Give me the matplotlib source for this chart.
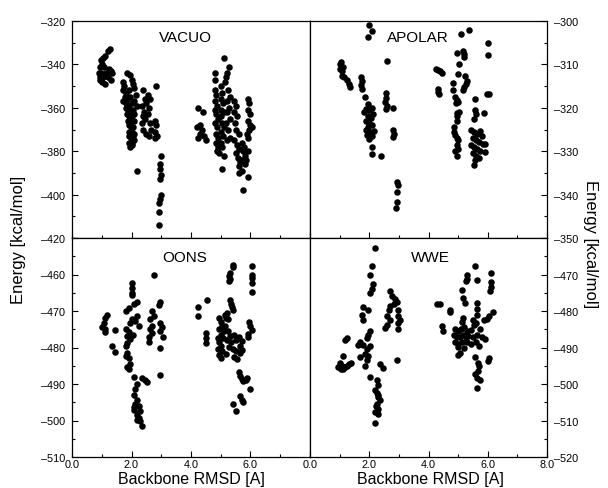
import numpy as np
import matplotlib.pyplot as plt
from matplotlib.ticker import MultipleLocator

plt.rcParams['font.family'] = ['Liberation Sans', 'DejaVu Sans']

# (rmsd, energy) pairs
vacuo_pts = [
    (1.28,-333),(1.2,-334),(1.12,-336),(1.05,-337),(0.98,-338),(1.0,-340),(0.95,-341),(1.08,-341),
    (1.25,-342),(1.3,-343),(0.9,-344),(0.98,-344),(1.15,-344),(1.35,-344),(0.95,-346),(1.05,-346),
    (1.2,-346),(1.3,-347),(1.0,-348),(1.1,-349),(0.93,-347),
    (1.85,-344),(1.95,-345),(2.0,-347),(1.7,-348),(1.75,-350),(2.05,-349),(1.72,-352),(1.8,-353),
    (1.9,-352),(2.1,-351),(1.78,-355),(1.85,-356),(1.95,-355),(2.15,-354),(1.72,-357),(1.82,-358),
    (1.9,-359),(2.0,-358),(2.1,-357),(1.8,-360),(1.88,-361),(1.95,-362),(2.05,-361),(2.2,-359),
    (1.85,-363),(1.92,-364),(2.0,-364),(2.1,-363),(1.88,-366),(1.95,-367),(2.02,-366),(2.1,-366),
    (1.9,-368),(1.98,-369),(2.05,-369),(1.92,-371),(2.0,-371),(2.08,-372),(1.9,-373),(1.97,-374),
    (2.04,-374),(1.92,-376),(2.0,-376),(2.08,-375),(1.95,-378),(2.02,-377),(2.18,-389),
    (2.4,-352),(2.55,-354),(2.62,-356),(2.45,-356),(2.5,-358),(2.35,-359),(2.6,-360),(2.42,-362),
    (2.55,-363),(2.45,-365),(2.35,-367),(2.62,-367),(2.4,-370),(2.65,-370),(2.48,-372),(2.6,-373),
    (2.38,-364),
    (2.82,-350),(2.78,-366),(2.82,-368),(2.8,-371),(2.85,-373),(2.8,-374),(2.98,-382),(2.97,-386),
    (2.95,-388),(2.98,-391),(2.95,-393),(2.99,-400),(2.96,-402),(2.93,-404),(2.92,-408),(2.94,-414),
    (4.25,-360),(4.42,-362),(4.3,-368),(4.2,-369),(4.38,-370),(4.3,-372),(4.45,-373),(4.22,-374),
    (4.5,-375),
    (4.8,-344),(4.82,-347),(4.8,-352),(4.85,-354),(4.82,-357),(4.88,-359),(4.8,-361),(4.85,-363),
    (4.9,-365),(4.82,-367),(4.88,-369),(4.85,-372),(4.9,-374),(4.83,-376),(4.92,-378),(4.88,-380),
    (4.95,-381),
    (5.0,-350),(5.05,-353),(5.0,-356),(5.08,-358),(5.02,-361),(5.1,-362),(5.0,-364),(5.05,-367),
    (5.1,-369),(5.02,-371),(5.08,-373),(5.0,-376),(5.05,-378),(5.1,-382),(5.05,-388),
    (5.12,-337),(5.28,-341),(5.22,-344),(5.18,-346),(5.15,-348),(5.25,-352),(5.3,-355),(5.2,-357),
    (5.28,-360),(5.22,-362),(5.3,-365),(5.18,-367),(5.25,-370),(5.32,-374),(5.2,-375),
    (5.45,-357),(5.5,-359),(5.45,-362),(5.55,-364),(5.48,-367),(5.52,-370),(5.6,-372),(5.45,-375),
    (5.55,-377),(5.62,-379),(5.5,-381),(5.58,-383),(5.65,-385),(5.6,-387),(5.7,-389),(5.62,-390),
    (5.74,-398),(5.72,-376),(5.78,-378),(5.75,-380),(5.8,-382),(5.72,-384),(5.82,-386),
    (5.9,-356),(5.95,-358),(5.92,-361),(5.98,-363),(5.9,-366),(6.0,-368),(5.95,-370),(5.88,-372),
    (5.92,-374),(5.9,-380),(5.85,-384),(5.92,-392),(6.05,-369),
]

apolar_pts = [
    (2.0,-301),(2.08,-302.3),(1.97,-303.8),(2.59,-309.2),
    (1.01,-310),(1.05,-309.5),(1.1,-310.5),(1.08,-311.5),(1.02,-311),(1.07,-312.6),(1.15,-313),
    (1.24,-313.7),(1.3,-314.5),(1.35,-315.3),
    (1.73,-312.8),(1.75,-313.8),(1.72,-314.8),(1.76,-315.6),
    (1.85,-317.5),(1.95,-319.2),(1.9,-320.2),(2.0,-320.5),(2.08,-320),(1.82,-321),(1.95,-321.8),
    (2.05,-322.3),(2.12,-321.5),(1.9,-323),(2.0,-323.5),(2.1,-324),(1.95,-324.5),(1.88,-325.2),
    (2.02,-325.5),(2.15,-325.3),(1.92,-326.3),(2.08,-326.5),(2.0,-327.2),(2.08,-329),(2.08,-330.6),
    (2.39,-331),
    (2.55,-316.5),(2.57,-317.7),(2.53,-318.6),(2.6,-319.5),(2.56,-320.3),(2.79,-320),
    (2.8,-325),(2.82,-326),(2.8,-326.8),
    (2.95,-337),(2.97,-337.8),(2.93,-339.5),(2.95,-341.6),(2.9,-343),
    (5.09,-303),(5.37,-302),(6.02,-305.1),(6.02,-307.8),
    (4.95,-307.4),(5.18,-306.9),(5.2,-307.5),(5.2,-308.3),(5.04,-309.9),
    (4.26,-311),(4.33,-311.2),(4.4,-311.5),(4.46,-311.9),
    (5.0,-312.2),(5.23,-312.7),
    (4.84,-314.3),(5.3,-313.8),(5.25,-314.6),(5.2,-315.3),(5.15,-316),
    (4.33,-315.6),(4.32,-316.3),(4.36,-316.8),(4.82,-316),
    (4.9,-317.5),(4.95,-318.2),(5.0,-318.7),(4.93,-318.9),
    (5.57,-318),(5.97,-316.8),(6.05,-316.9),
    (4.95,-321.3),(5.02,-321),(4.96,-322),
    (5.57,-320.6),(5.6,-321.5),(5.55,-322.5),(5.86,-321.2),(4.95,-323),
    (4.85,-324.4),(4.86,-325.5),(4.9,-326.3),(4.95,-327),(5.0,-327.5),
    (5.45,-325),(5.55,-325.5),(5.65,-326),(5.75,-325.3),(5.8,-326.5),(5.5,-327),(5.6,-327.5),
    (5.7,-327.8),(5.85,-328.4),(5.45,-328.5),(5.55,-329),(5.65,-329.5),(5.75,-330),(5.5,-330.5),
    (5.62,-331),(5.72,-331.5),(5.58,-332),(5.91,-330.1),(5.52,-333.2),(5.9,-328.4),
    (4.95,-328.5),(5.0,-329.5),(4.9,-330),(4.95,-331.2),
]

oons_pts = [
    (2.74,-460.2),(2.02,-462.3),(2.03,-463.7),(2.02,-465),(2.0,-465.5),(2.18,-467.4),(2.07,-468),
    (2.97,-467.4),(2.92,-468.3),(1.9,-469.2),(1.82,-470),(2.69,-470),(2.74,-471.4),
    (2.18,-471.4),(2.02,-472.3),(1.96,-473.2),(2.13,-472.8),(2.24,-474.1),
    (1.18,-471.1),(1.12,-472),(1.06,-473.4),(1.0,-474.3),(1.12,-474.8),(1.1,-475.7),(1.43,-475.2),
    (2.63,-472.3),(2.69,-474),(2.63,-475),(2.69,-476),(2.6,-477),
    (2.97,-473.2),(3.02,-474.5),(2.97,-475.5),(3.05,-477),(2.58,-478.4),
    (1.8,-474.8),(1.9,-475.8),(1.85,-476.8),(1.96,-477.8),(1.85,-478.8),(1.8,-479.5),(2.05,-476.5),
    (1.35,-479.7),(1.46,-481.1),(2.97,-480.2),
    (1.85,-481.5),(1.8,-482.3),(1.9,-483),(1.96,-484.4),(1.85,-485.3),(1.92,-486),
    (2.07,-488),(2.97,-487.5),(2.35,-488.4),(2.45,-488.8),(2.52,-489.4),(2.18,-490),(2.12,-491.5),
    (2.07,-493),(2.18,-494.3),(2.13,-495.5),(2.24,-496),(2.07,-497),(2.3,-497.5),(2.18,-498.4),
    (2.24,-499.3),(2.3,-500.2),(2.35,-501.4),(2.1,-496.3),(2.2,-499.8),
    (5.42,-457.3),(5.4,-458),(5.3,-459.6),(5.27,-460.5),(5.3,-461.2),(5.27,-461.8),
    (6.04,-457.7),(6.04,-460),(6.04,-461),(6.04,-462.3),(6.04,-464.7),
    (4.53,-467),(4.25,-469),(4.22,-471.3),
    (5.3,-467),(5.34,-468.2),(5.37,-469),(5.4,-469.7),
    (5.2,-470.5),(5.14,-471.2),(5.17,-472),(5.25,-472.3),
    (4.5,-476),(4.5,-477.4),(4.52,-478.7),
    (5.95,-473),(6.0,-474),(6.05,-475.2),(5.92,-476.2),(5.9,-477),
    (5.6,-477),(5.7,-478.2),(5.64,-479.5),(5.7,-480.8),(5.64,-481.5),
    (5.6,-486.7),(5.64,-487.7),(5.7,-488.5),(5.75,-489.2),(5.85,-489),(5.88,-488.3),
    (5.64,-493.3),(5.72,-494.4),(5.76,-495),(5.98,-491.3),(5.42,-495.4),(5.52,-497.5),
    (4.95,-472),(5.0,-473),(5.05,-474),(4.95,-475),(5.1,-475.5),(5.0,-476.5),(4.9,-477.5),
    (5.08,-477.5),(4.95,-478.5),(5.02,-479.5),(4.92,-480.5),(5.05,-481),(4.95,-482),(5.0,-483),
    (5.15,-474),(5.25,-475.5),(5.3,-476.8),(5.2,-478),(5.35,-478.5),(5.28,-479.8),(5.4,-480.5),
    (5.45,-476.5),(5.5,-478),(5.52,-481),(5.45,-482.5),(5.55,-483.2),(5.18,-481.8),
]

wwe_pts = [
    (2.2,-462.7),(2.08,-467.7),(2.03,-470),(2.14,-472.7),(2.08,-474),(2.03,-475),
    (2.7,-474.6),(2.76,-475.8),(2.87,-476.7),(2.95,-477.5),(2.82,-478),(2.7,-478.7),
    (1.8,-479),(1.97,-479.6),(1.75,-481.2),(1.8,-482.4),
    (2.65,-479.6),(2.59,-481.5),(2.7,-482.4),(2.98,-479.6),(2.98,-481.5),(3.04,-482.4),
    (2.98,-483.3),(2.59,-483.8),(2.98,-485),(2.53,-484.6),
    (2.03,-485.6),(1.97,-486.5),(1.92,-487.3),(1.24,-487.3),(1.18,-488),
    (1.69,-488.5),(1.8,-489.2),(1.63,-489.4),
    (2.03,-489.6),(1.92,-490.5),(1.86,-491.8),(1.97,-492.3),(1.69,-492.7),(1.92,-493.5),
    (1.13,-492.4),(2.93,-493.4),
    (1.01,-494.2),(1.07,-495),(1.18,-495.4),(1.3,-494.6),(1.4,-494.2),(0.96,-495.4),(1.13,-495.8),
    (1.24,-495.2),(1.03,-496),
    (1.86,-495),(2.36,-494.5),(2.48,-495.7),(2.03,-498),
    (2.25,-499),(2.31,-500.4),(2.2,-501.7),(2.25,-502.6),(2.31,-503.5),(2.36,-504.5),(2.25,-505.4),
    (2.31,-506.8),(2.2,-507.7),(2.31,-508.2),(2.2,-510.6),(2.28,-503),(2.22,-506),
    (5.57,-467.7),(5.3,-470),(5.29,-471.2),(5.27,-471.8),(5.65,-471.6),
    (6.1,-469.5),(6.1,-472),(6.1,-473.4),(6.08,-474.5),
    (5.12,-474.2),(5.18,-476.5),(5.23,-477.8),
    (4.3,-478),(4.39,-478),(5.63,-477.7),(5.63,-479.5),(5.63,-481),
    (4.71,-479.8),(4.73,-480.4),(6.17,-480.3),
    (6.03,-481.5),(5.98,-482.2),(5.87,-482.5),(5.18,-482),(5.12,-483),
    (5.5,-482.4),(5.6,-483.2),(5.55,-483.8),
    (4.47,-484),(4.49,-485.6),
    (4.9,-484.8),(5.0,-485.5),(5.1,-485),(5.2,-484.5),(5.3,-485.5),(5.42,-485.2),(5.75,-485),
    (4.85,-486.5),(4.95,-487.2),(5.05,-487),(5.15,-486.5),(5.25,-487.2),(5.35,-486.8),(5.5,-487),
    (5.65,-486.5),(5.8,-487.2),(5.92,-487.8),(4.9,-488.5),(5.0,-489),(5.12,-488.6),(5.3,-488.5),
    (5.45,-489),(5.6,-488.6),(5.72,-489.5),(5.0,-489.8),(5.2,-490),
    (5.06,-491.5),(5.0,-492),(6.04,-493),(6.0,-493.6),
    (5.57,-492.5),(5.68,-494.2),(5.72,-495.2),(5.68,-496.5),(5.57,-497.3),(5.63,-498.3),
    (5.75,-499),(5.65,-501),
]

panels = [
    ('VACUO', vacuo_pts, (-420, -320), 20, 10, 'left', False),
    ('APOLAR', apolar_pts, (-350, -300), 10, 5, 'right', False),
    ('OONS', oons_pts, (-510, -450), 10, 5, 'left', True),
    ('WWE', wwe_pts, (-520, -460), 10, 5, 'right', True),
]

L, M, R = 72 / 608, 310 / 608, 547 / 608
T, H, B = 1 - 22 / 489, 1 - 239 / 489, 1 - 458 / 489
rects = [[L, H, M - L, T - H], [M, H, R - M, T - H],
         [L, B, M - L, H - B], [M, B, R - M, H - B]]
title_x = [0.475, 0.456, 0.475, 0.506]

fig = plt.figure(figsize=(6.08, 4.89), dpi=100)

for i, (name, pts, ylim, ymaj, ymin, side, bottom) in enumerate(panels):
    ax = fig.add_axes(rects[i])
    pts = np.array(pts)
    ax.scatter(pts[:, 0], pts[:, 1], s=22, c='black', linewidths=0)
    ax.set_xlim(0, 8)
    ax.set_ylim(*ylim)
    for sp in ax.spines.values():
        sp.set_linewidth(0.9)

    ax.set_xticks(np.arange(0, 9, 2))
    ax.xaxis.set_minor_locator(MultipleLocator(1))
    if bottom:
        labs = ['%.1f' % v for v in np.arange(0, 9, 2)]
        if side == 'left':
            labs[-1] = ''
        ax.set_xticklabels(labs)
    else:
        ax.set_xticklabels([])

    yt = np.arange(ylim[0], ylim[1] + 1, ymaj)
    ax.set_yticks(yt)
    ylabs = ['%d' % v for v in yt]
    if bottom:
        ylabs[-1] = ''
    ax.set_yticklabels([s.replace('-', '\u2013') for s in ylabs])
    ax.yaxis.set_minor_locator(MultipleLocator(ymin))
    if side == 'right':
        ax.yaxis.tick_right()

    ax.tick_params(which='both', direction='in', labelsize=7.8, width=0.8, top=False)
    ax.tick_params(which='major', length=4)
    ax.tick_params(which='minor', length=2.5)
    ax.tick_params(axis='y', pad=5)
    ax.tick_params(axis='x', pad=1.5)

    ty = 0.926 if not bottom else 0.913
    ax.text(title_x[i], ty, name, transform=ax.transAxes, ha='center', va='center', fontsize=11)

fig.text(0.03, 0.51, 'Energy [kcal/mol]', rotation=90, ha='center', va='center', fontsize=12)
fig.text(0.972, 0.50, 'Energy [kcal/mol]', rotation=270, ha='center', va='center', fontsize=12)
fig.text(191 / 608, 1 - 480 / 489, 'Backbone RMSD [A]', ha='center', va='center', fontsize=11.5)
fig.text(430 / 608, 1 - 480 / 489, 'Backbone RMSD [A]', ha='center', va='center', fontsize=11.5)

fig.savefig('out.png', dpi=100)
